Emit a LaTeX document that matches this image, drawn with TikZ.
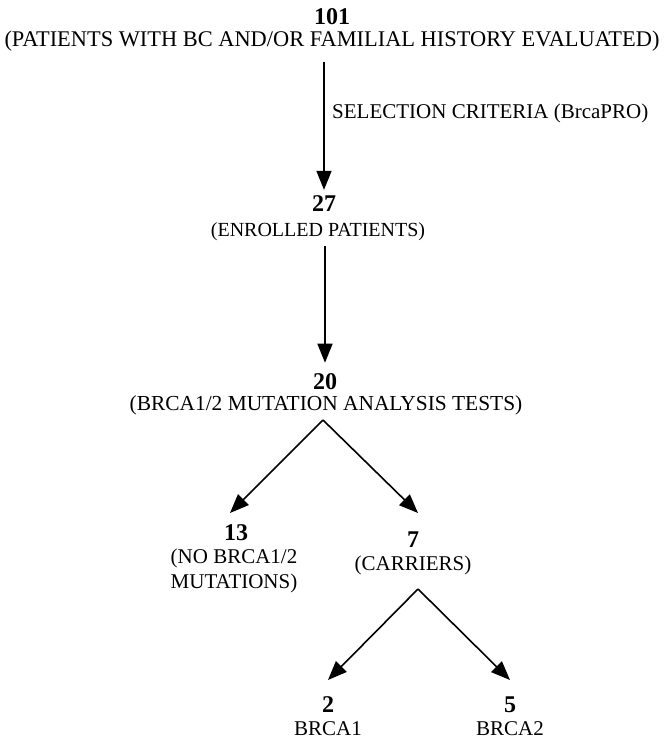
\documentclass[tikz,border=0pt]{standalone}
\usepackage{fontspec}
\setmainfont{Liberation Serif}
\usetikzlibrary{arrows.meta}
\tikzset{
  num/.style={inner sep=0pt, font=\fontsize{24}{28}\selectfont\bfseries},
  lab/.style={inner sep=0pt, font=\fontsize{21}{25}\selectfont, align=center},
  arr/.style={line width=1.6pt, -{Triangle[length=19pt,width=15pt]}},
}
\begin{document}
\begin{tikzpicture}[x=1pt,y=-1pt]
\useasboundingbox (0,0) rectangle (664,740);
\node[num] (n101) at (332,17) {101};
\node[lab, font=\fontsize{22.4}{26}\selectfont] (l101) at (332,41) {(PATIENTS WITH BC AND/OR FAMILIAL HISTORY EVALUATED)};
\node[lab, anchor=west] (sel) at (332,113) {SELECTION CRITERIA (BrcaPRO)};
\node[num] (n27) at (324,204) {27};
\node[lab, font=\fontsize{20}{24}\selectfont] (l27) at (318,232) {(ENROLLED PATIENTS)};
\node[num] (n20) at (325,382) {20};
\node[lab, font=\fontsize{21.4}{25}\selectfont] (l20) at (326,405) {(BRCA1/2 MUTATION ANALYSIS TESTS)};
\coordinate (ap1) at (323,420);
\coordinate (t13) at (230,513);
\coordinate (t7) at (418,513);
\node[num] (n13) at (236,533) {13};
\node[lab] (l13) at (234,571) {(NO BRCA1/2\\MUTATIONS)};
\node[num] (n7) at (413,540) {7};
\node[lab] (l7) at (413,565) {(CARRIERS)};
\coordinate (ap2) at (418,589);
\coordinate (t2) at (328,680);
\coordinate (t5) at (510,680);
\node[num] (n2) at (328,705) {2};
\node[lab] (l2) at (328,729) {BRCA1};
\node[num] (n5) at (510,705) {5};
\node[lab] (l5) at (510,729) {BRCA2};
\draw[arr, shorten <=11pt, shorten >=6pt] (l101.south -| n27.north) -- (n27.north);
\draw[arr, shorten <=5pt, shorten >=11pt] (l27.south -| n20.north) -- (n20.north);
\draw[arr] (ap1) -- (t13);
\draw[arr] (ap1) -- (t7);
\draw[arr] (ap2) -- (t2);
\draw[arr] (ap2) -- (t5);
\end{tikzpicture}
\end{document}
